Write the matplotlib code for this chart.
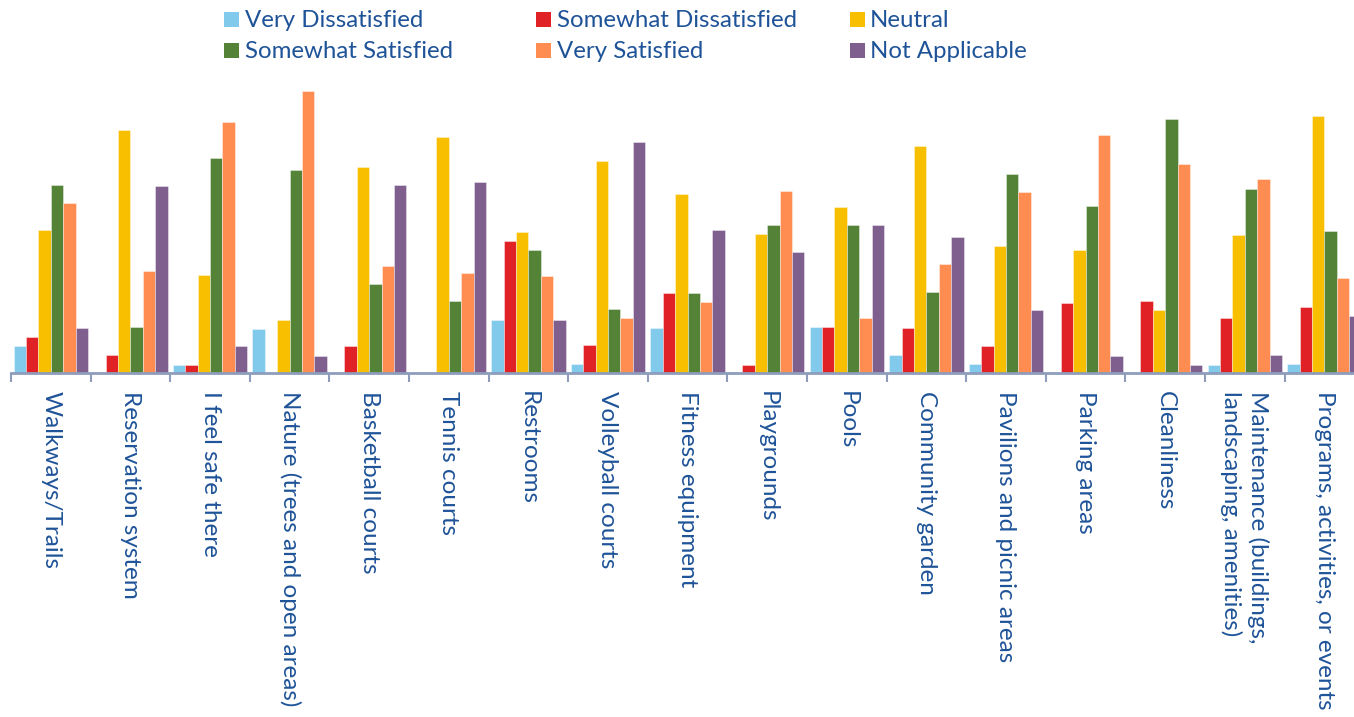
import matplotlib
matplotlib.use("Agg")
import matplotlib.pyplot as plt
from matplotlib.patches import Rectangle
import numpy as np

categories = [
    "Walkways/Trails", "Reservation system", "I feel safe there",
    "Nature (trees and open areas)", "Basketball courts", "Tennis courts",
    "Restrooms", "Volleyball courts", "Fitness equipment", "Playgrounds",
    "Pools", "Community garden", "Pavilions and picnic areas", "Parking areas",
    "Cleanliness", "Maintenance (buildings,\nlandscaping, amenities)",
    "Programs, activities, or events",
]
series_names = ["Very Dissatisfied", "Somewhat Dissatisfied", "Neutral",
                "Somewhat Satisfied", "Very Satisfied", "Not Applicable"]

very_dissatisfied = [2.7, 0, 0.8, 4.4, 0, 0, 5.3, 0.9, 4.5, 0, 4.6, 1.8, 0.9, 0, 0, 0.8, 0.9]
somewhat_dissatisfied = [3.6, 1.8, 0.8, 0, 2.7, 0, 13.2, 2.8, 8.0, 0.8, 4.6, 4.5, 2.7, 7.0, 7.2, 5.5, 6.6]
neutral = [14.3, 24.3, 9.8, 5.3, 20.6, 23.6, 14.1, 21.2, 17.9, 13.9, 16.6, 22.7, 12.7, 12.3, 6.3, 13.8, 25.7]
somewhat_satisfied = [18.8, 4.6, 21.5, 20.3, 8.9, 7.2, 12.3, 6.4, 8.0, 14.8, 14.8, 8.1, 19.9, 16.7, 25.4, 18.4, 14.2]
very_satisfied = [17.0, 10.2, 25.1, 28.2, 10.7, 10.0, 9.7, 5.5, 7.1, 18.2, 5.5, 10.9, 18.1, 23.8, 20.9, 19.4, 9.5]
not_applicable = [4.5, 18.7, 2.7, 1.7, 18.8, 19.1, 5.3, 23.1, 14.3, 12.1, 14.8, 13.6, 6.3, 1.7, 0.8, 1.8, 5.7]

series = [very_dissatisfied, somewhat_dissatisfied, neutral,
          somewhat_satisfied, very_satisfied, not_applicable]
colors = ["#82CAEB", "#E02226", "#F8BF00", "#548236", "#FF8C50", "#7E5F8E"]

W, H = 1354, 717
fig = plt.figure(figsize=(W / 100, H / 100), dpi=100)
plt.rcParams['font.family'] = ['Lato', 'DejaVu Sans']
text_color = "#1F5398"
axis_color = "#8E9DBB"

n = len(categories)
group_px = 79.6
left_px = 11
base_px = 373.3
top_px = 80
ax = fig.add_axes([left_px / W, (H - base_px) / H, n * group_px / W, (base_px - top_px) / H])
ax.set_xlim(-0.5, n - 0.5)
ax.set_ylim(0, (base_px - top_px) / 10)

bw = 0.156
x = np.arange(n)
for k, (vals, c) in enumerate(zip(series, colors)):
    ax.bar(x + (k - 2.5) * bw, vals, width=bw, color=c,
           edgecolor=(1, 1, 1, 0.45), linewidth=0.6, zorder=2)

for s in ["top", "right", "left"]:
    ax.spines[s].set_visible(False)
ax.spines["bottom"].set_color(axis_color)
ax.spines["bottom"].set_linewidth(2.0)
ax.spines["bottom"].set_zorder(3)
ax.set_yticks([])

ax.set_xticks(np.arange(n + 1) - 0.5)
ax.set_xticklabels([])
ax.tick_params(axis="x", which="major", direction="out", length=6.5,
               width=1.5, color=axis_color)
ax.set_xticks(x, minor=True)
ax.set_xticklabels(categories, minor=True, rotation=-90, ha="center", va="top",
                   multialignment="left", fontsize=17.5, color=text_color,
                   linespacing=1.25)
ax.tick_params(axis="x", which="minor", length=0, pad=13)

# legend (manual placement)
leg_cols = [(224, 245), (536, 557), (850, 870)]
leg_rows = [19.5, 50.5]
for i, (name, c) in enumerate(zip(series_names, colors)):
    r, col = divmod(i, 3)
    mx, tx = leg_cols[col]
    yc = leg_rows[r]
    fig.add_artist(Rectangle((mx / W, 1 - (yc + 7.5) / H), 15 / W, 15 / H,
                             transform=fig.transFigure, facecolor=c,
                             edgecolor="none"))
    fig.text(tx / W, 1 - (yc + 1) / H, name, ha="left", va="center",
             fontsize=17.3, color=text_color)

fig.savefig("out.png", dpi=100)
